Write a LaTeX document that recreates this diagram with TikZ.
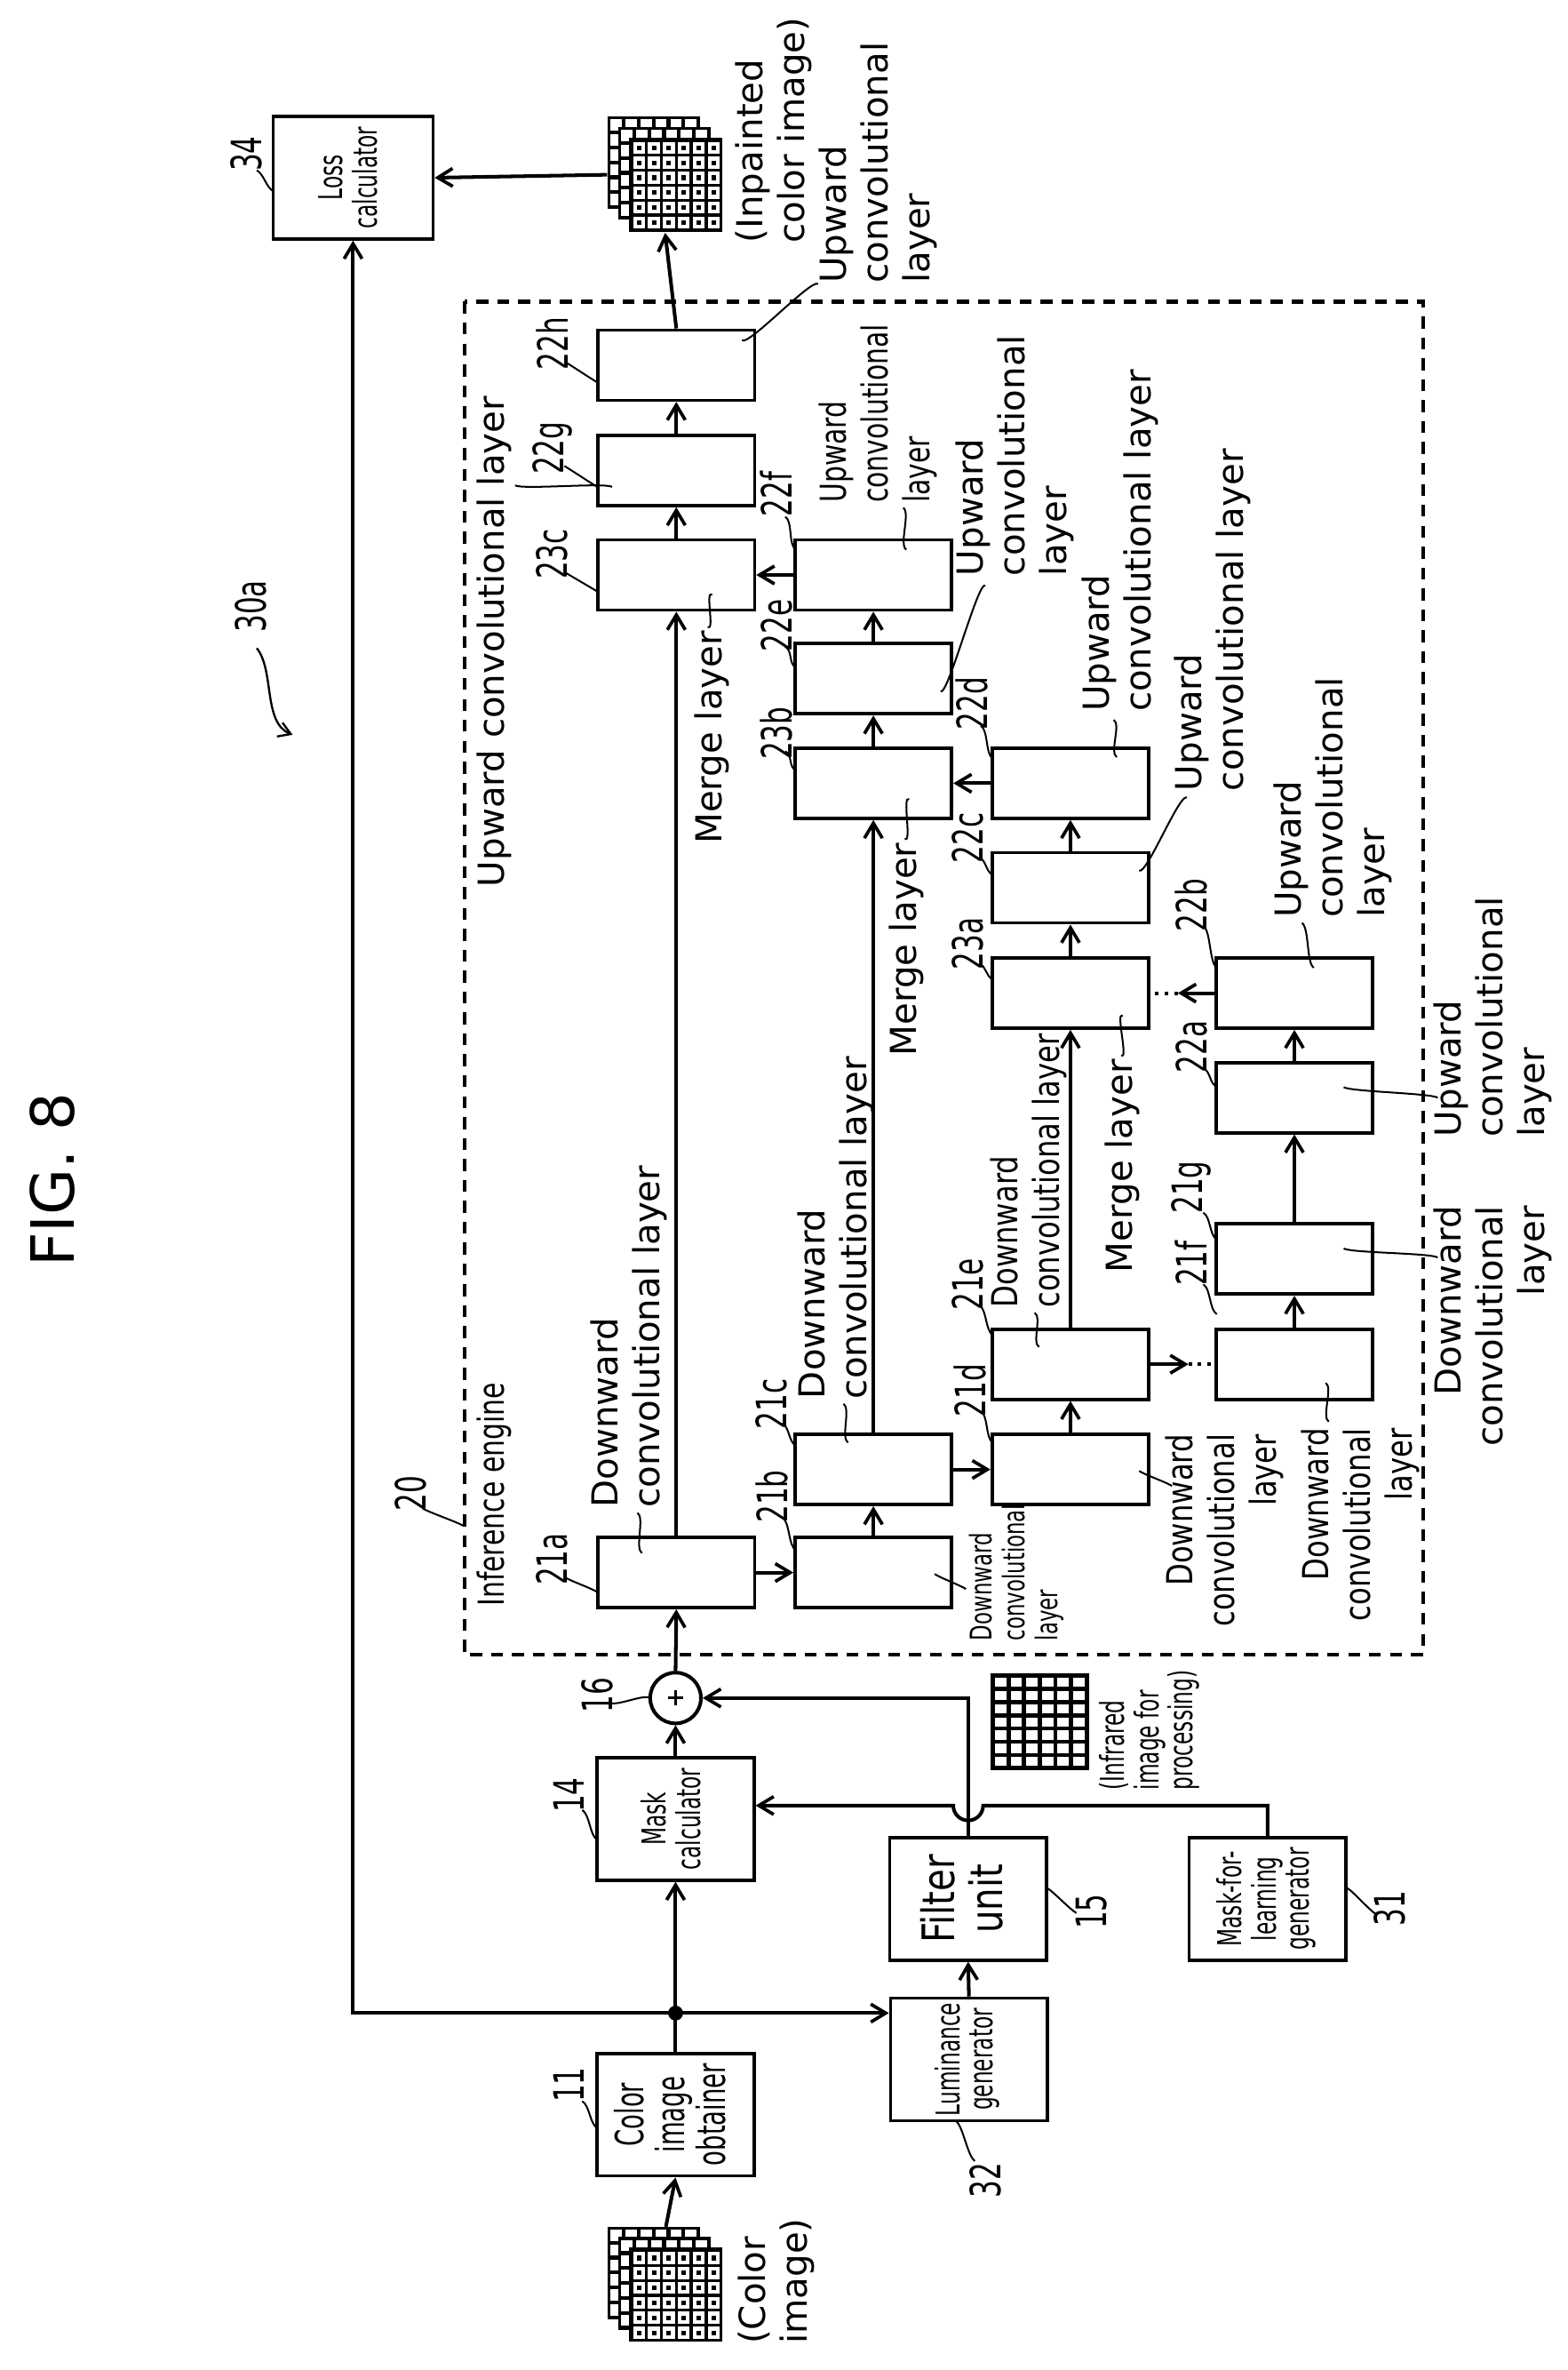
\documentclass[tikz,border=0pt]{standalone}
\usepackage{fontspec}
\setmainfont{DejaVu Sans}
\newfontfamily\fsn{DejaVu Sans}[FakeStretch=0.66]
\newfontfamily\fsa{DejaVu Sans}[FakeStretch=0.74]
\newfontfamily\fsb{DejaVu Sans}[FakeStretch=0.8]
\usepackage{graphicx}
\usetikzlibrary{arrows.meta}
\newcommand\cnd[1]{\scalebox{0.63}[1]{#1}}
\newcommand\bt[2]{\rotatebox{90}{\fontsize{#1}{#1}\selectfont\begin{tabular}{@{}c@{}}#2\end{tabular}}}
\begin{document}
\begin{tikzpicture}[x=0.5pt,y=-0.5pt,
  box/.style={draw,line width=1.1pt,minimum width=52.5pt,minimum height=23.5pt,inner sep=0pt},
  bbox/.style={draw,line width=1.1pt,minimum width=52.5pt,minimum height=41pt,inner sep=0pt},
  rt/.style={rotate=90,inner sep=0pt,font=\fontsize{12}{14}\selectfont},
  rta/.style={rotate=90,inner sep=0pt,font=\fsa\fontsize{12}{14}\selectfont},
  rtb/.style={rotate=90,inner sep=0pt,font=\fsb\fontsize{12}{14}\selectfont},
  num/.style={rotate=90,inner sep=0pt,font=\fsn\fontsize{14}{16}\selectfont},
  ar/.style={line width=1.2pt,-{Straight Barb[length=5pt,width=6pt,line width=1.1pt]}},
  ln/.style={line width=1.2pt},
  ld/.style={line width=0.6pt}]
\useasboundingbox (0,0) rectangle (1050,1587);
\newcommand\ldr[2]{\draw[ld] #1 .. controls +(5,3) and +(-5,-3) .. #2;}

% title
\node[rotate=90,font=\fontsize{20}{24}\selectfont] (fig) at (35,790) {FIG. 8};
\node[num] (l30a) at (168,406) {30a};
\coordinate (t30a) at (196,492);
\draw[line width=0.7pt,-{Straight Barb[length=4pt,width=5pt]}] (172,434) .. controls +(12,15) and +(-20,-8) .. (t30a);

% dashed inference engine
\draw[line width=1.2pt,dash pattern=on 4pt off 3pt] (311,202) rectangle (953,1108);
\node[rta,anchor=west] (ie) at (331,1076) {Inference engine};
\node[num] (l20) at (275,1000) {20};
\ldr{(283,1010)}{(311,1022)}

% boxes
\node[box] (b22h) at (453,244.5) {};
\node[box] (b22g) at (453,315) {};
\node[box] (b23c) at (453,385) {};
\node[box] (b21a) at (453,1053) {};
\node[box] (b22f) at (585,385) {};
\node[box] (b22e) at (585,454.5) {};
\node[box] (b23b) at (585,524.5) {};
\node[box] (b21c) at (585,984) {};
\node[box] (b21b) at (585,1053) {};
\node[box] (b22d) at (717,524.5) {};
\node[box] (b22c) at (717,594.5) {};
\node[box] (b23a) at (717,665) {};
\node[box] (b21e) at (717,913.5) {};
\node[box] (b21d) at (717,984) {};
\node[box] (b22b) at (867,665) {};
\node[box] (b22a) at (867,735) {};
\node[box] (b21g) at (867,843) {};
\node[box] (b21f) at (867,913.5) {};

\node[bbox] (b11) at (452.5,1416) {\bt{13}{\cnd{Color}\\\cnd{image}\\\cnd{obtainer}}};
\node[bbox] (b14) at (452.5,1218) {\bt{11}{\cnd{Mask}\\\cnd{calculator}}};
\node[bbox] (b15) at (648.5,1271.5) {\rotatebox{90}{\fontsize{15}{15}\selectfont\begin{tabular}{@{}c@{}}\scalebox{0.8}[1]{Filter}\\\scalebox{0.8}[1]{unit}\end{tabular}}};
\node[bbox] (b32) at (649,1379) {\bt{11}{\cnd{Luminance}\\\cnd{generator}}};
\node[bbox] (b31) at (849,1271.5) {\bt{11}{\cnd{Mask-for-}\\\cnd{learning}\\\cnd{generator}}};
\node[bbox,minimum width=53.5pt] (b34) at (236.5,119) {\bt{11}{\cnd{Loss}\\\cnd{calculator}}};

% number labels
\node[num] (n34) at (165,103) {34};      \ldr{(172,114)}{(183,128)}
\node[num] (n22h) at (370,230) {22h};    \ldr{(378,242)}{(400,256)}
\node[num] (n22g) at (370,300) {22g};    \ldr{(378,312)}{(400,326)}
\node[num] (n23c) at (370,371) {23c};    \ldr{(378,383)}{(400,396)}
\node[num] (n21a) at (370,1044) {21a};   \ldr{(378,1056)}{(400,1066)}
\node[num] (n22f) at (520,331) {22f};    \ldr{(526,346)}{(533,368)}
\node[num] (n22e) at (520,419) {22e};    \ldr{(526,433)}{(533,447)}
\node[num] (n23b) at (520,491) {23b};    \ldr{(526,503)}{(533,516)}
\node[num] (n21c) at (517,940) {21c};    \ldr{(524,953)}{(533,968)}
\node[num] (n21b) at (517,1002) {21b};   \ldr{(524,1016)}{(533,1038)}
\node[num] (n22d) at (651,471) {22d};    \ldr{(657,486)}{(665,508)}
\node[num] (n22c) at (648,561) {22c};    \ldr{(656,574)}{(665,586)}
\node[num] (n23a) at (648,632) {23a};    \ldr{(656,645)}{(665,656)}
\node[num] (n21e) at (648,860) {21e};    \ldr{(656,874)}{(665,894)}
\node[num] (n21d) at (650,931) {21d};    \ldr{(657,945)}{(665,966)}
\node[num] (n22b) at (798,606) {22b};    \ldr{(806,620)}{(815,648)}
\node[num] (n22a) at (798,701) {22a};    \ldr{(806,715)}{(815,728)}
\node[num] (n21g) at (798,795) {21g};    \ldr{(806,812)}{(815,830)}
\node[num] (n21f) at (798,846) {21f};    \ldr{(806,860)}{(815,880)}
\node[num] (n16) at (400,1135) {16};     \ldr{(408,1140)}{(436,1137)}
\node[num] (n14) at (381,1202) {14};     \ldr{(390,1212)}{(400,1232)}
\node[num] (n11) at (381,1396) {11};     \ldr{(390,1407)}{(400,1425)}
\node[num] (n15) at (731,1280) {15};     \ldr{(701,1264)}{(721,1281)}
\node[num] (n31) at (931,1278) {31};     \ldr{(902,1264)}{(922,1282)}
\node[num] (n32) at (660,1460) {32};     \ldr{(640,1420)}{(653,1447)}

% descriptive labels
\node[rt,anchor=east] (dU) at (331,265) {Upward convolutional layer};
\ldr{(345,325)}{(410,326)}
\node[rt,anchor=east] (m23c) at (477,422) {Merge layer};  \ldr{(474,420)}{(477,398)}
\node[rt,anchor=east] (m23b) at (607,564) {Merge layer};  \ldr{(606,562)}{(609,535)}
\node[rt,anchor=east] (m23a) at (752,709) {Merge layer};  \ldr{(751,707)}{(752,680)}
\node[rt,anchor=west,align=left] (d22h) at (588,190) {Upward\\convolutional\\layer}; \ldr{(497,228)}{(548,190)}
\node[rta,anchor=west,align=left] (d22f) at (588,337) {Upward\\convolutional\\layer}; \ldr{(605,340)}{(607,368)}
\node[rt,anchor=west,align=left] (d22e) at (680,386) {Upward\\convolutional\\layer}; \ldr{(630,463)}{(660,392)}
\node[rt,anchor=west,align=left] (d22d) at (750,477) {Upward\\convolutional layer}; \ldr{(746,482)}{(748,507)}
\node[rt,anchor=west,align=left] (d22c) at (812,530) {Upward\\convolutional layer}; \ldr{(763,583)}{(795,534)}
\node[rt,anchor=west,align=left] (d22b) at (893,615) {Upward\\convolutional\\layer}; \ldr{(872,618)}{(880,648)}
\node[rt,anchor=west,align=left] (d22a) at (1000,762) {Upward\\convolutional\\layer}; \ldr{(900,728)}{(963,735)}
\node[rt,anchor=east,align=right] (d21g) at (1000,807) {Downward\\convolutional\\layer}; \ldr{(900,836)}{(963,842)}
\node[rtb,anchor=east,align=right] (d21f) at (911,956) {Downward\\convolutional\\layer}; \ldr{(888,926)}{(890,952)}
\node[rtb,anchor=east,align=right] (d21d) at (820,960) {Downward\\convolutional\\layer}; \ldr{(763,985)}{(785,995)}
\node[rtb,anchor=west,align=left] (d21e) at (689,876) {Downward\\convolutional layer}; \ldr{(693,879)}{(696,902)}
\node[rt,anchor=west,align=left] (d21c) at (560,937) {Downward\\convolutional layer}; \ldr{(565,940)}{(568,966)}
\node[rt,anchor=west,align=left] (d21a) at (421,1010) {Downward\\convolutional layer}; \ldr{(427,1013)}{(430,1040)}
\node[rotate=90,inner sep=0pt,anchor=west,align=left,font=\fontsize{10}{11}\selectfont] (d21b) at (681,1099) {\scalebox{0.68}[1]{Downward}\\\scalebox{0.68}[1]{convolutional}\\\scalebox{0.68}[1]{layer}}; \ldr{(626,1054)}{(647,1064)}
\node[rotate=90,inner sep=0pt,anchor=west,align=left,font=\fontsize{11}{11.5}\selectfont] (dir) at (770,1199) {\cnd{(Infrared}\\\cnd{image for}\\\cnd{processing)}};
\node[rt,anchor=west,align=left] (dinp) at (518,163) {(Inpainted\\color image)};
\node[rt,anchor=west,align=left] (dcol) at (520,1570) {(Color\\image)};

% icons
\newcommand\colicon[2]{%
  \foreach \k in {0,7}{\fill[black] (#1+\k,#2+\k) rectangle +(62,62);
    \foreach \i in {0,...,5}{\foreach \j in {0,...,5}{\fill[white] (#1+\k+2+\i*10,#2+\k+2+\j*10) rectangle +(7.5,7.5);}}}
  \fill[black] (#1+14,#2+14) rectangle +(63,63);
  \foreach \i in {0,...,5}{\foreach \j in {0,...,5}{\fill[white] (#1+17+\i*10,#2+17+\j*10) rectangle +(8,8);
     \fill[black] (#1+19.5+\i*10,#2+19.5+\j*10) rectangle +(3,3);}}}
\colicon{407}{78}
\colicon{407}{1491}
\path (445.5,117) node[minimum width=38.5pt,minimum height=38.5pt,inner sep=0pt] (inp) {};
\path (446,1530) node[minimum width=38.5pt,minimum height=38.5pt,inner sep=0pt] (col) {};
\draw[line width=1.4pt] (665,1122) rectangle (728,1184);
\foreach \i in {1,...,5}{\draw[line width=1.4pt] (665+\i*10.5,1122) -- +(0,62);}
\foreach \j in {1,...,6}{\draw[line width=1.4pt] (665,1122+\j*8.86) -- +(63,0);}
\node[inner sep=0pt,minimum size=31pt] (irg) at (696.5,1153) {};

% plus and junction
\node[draw,circle,line width=1.2pt,minimum size=17pt,inner sep=0pt] (plus) at (452.5,1137) {};
\draw[line width=1pt] (plus.center) ++(-5,0) -- ++(10,0) (plus.center) ++(0,-5) -- ++(0,10);
\coordinate (j) at (452.5,1348);
\fill (j) circle (2.5pt);

% arrows upper
\draw[ar] (b22h.north) -- (inp.south);
\draw[ar] (inp.west) -- (b34.east);
\draw[ar] (b22g.north) -- (b22h.south);
\draw[ar] (b23c.north) -- (b22g.south);
\draw[ar] (b21a.north) -- (b23c.south);
\draw[ar] (b21a.east) -- (b21b.west);
\draw[ar] (b21b.north) -- (b21c.south);
\draw[ar] (b21c.east) -- (b21d.west);
\draw[ar] (b21c.north) -- (b23b.south);
\draw[ar] (b23b.north) -- (b22e.south);
\draw[ar] (b22e.north) -- (b22f.south);
\draw[ar] (b22f.west) -- (b23c.east);
\draw[ar] (b21d.north) -- (b21e.south);
\draw[ar] (b21e.north) -- (b23a.south);
\draw[ar] (b23a.north) -- (b22c.south);
\draw[ar] (b22c.north) -- (b22d.south);
\draw[ar] (b22d.west) -- (b23b.east);
\coordinate (t1) at (796,913.5);
\coordinate (t2) at (789,665);
\draw[ar] (b21e.east) -- (t1);
\draw[ln,dotted] (t1) -- (b21f.west);
\draw[ar] (b21f.north) -- (b21g.south);
\draw[ar] (b21g.north) -- (b22a.south);
\draw[ar] (b22a.north) -- (b22b.south);
\draw[ar] (b22b.west) -- (t2);
\draw[ln,dotted] (t2) -- (b23a.east);

% arrows lower
\draw[ar] (col.north) -- (b11.south);
\draw[ln] (b11.north) -- (j);
\draw[ar] (j) -- (b14.south);
\draw[ar] (b14.north) -- (plus.south);
\draw[ar] (plus.north) -- (b21a.south);
\draw[ar] (j) -- (b34.south |- j) -- (b34.south);
\draw[ar] (j) -- (b32.west |- j);
\draw[ar] (b32.north) -- (b15.south);
\draw[ar] (b15.north) -- (b15.north |- plus) -- (plus.east);
\draw[ar] (b31.north) -- (b31.north |- 0,1209) -- (658.5,1209) arc[start angle=0,end angle=-180,radius=5pt] -- (b14.east |- 0,1209);
\end{tikzpicture}
\end{document}
